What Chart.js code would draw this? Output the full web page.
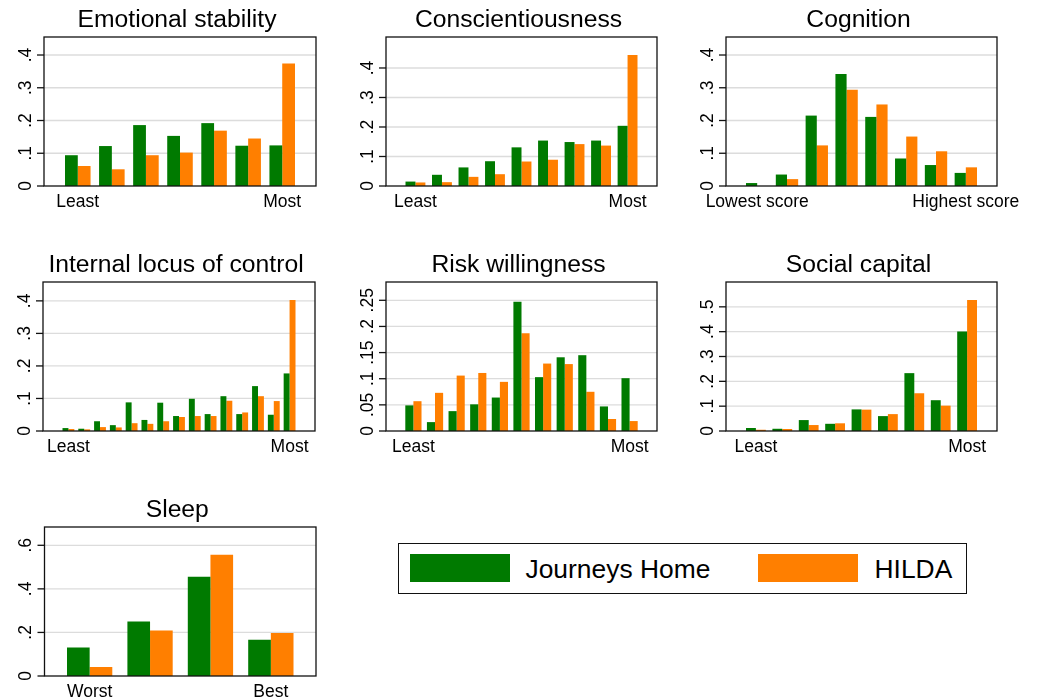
<!DOCTYPE html>
<html>
<head>
<meta charset="utf-8">
<script src="https://cdn.jsdelivr.net/npm/chart.js@4.4.1/dist/chart.umd.min.js"></script>
<style>
  html, body { margin: 0; padding: 0; background: #fff; }
  #page { position: relative; width: 1037px; height: 698px; overflow: hidden;
          font-family: "Liberation Sans", Arial, sans-serif; }
  #page canvas { position: absolute; }
  #legend { position: absolute; left: 398px; top: 543px; width: 569px; height: 51px;
            box-sizing: border-box; border: 1.5px solid #111; background: #fff; }
  #legend .sw { position: absolute; top: 9.5px; width: 100px; height: 28px; }
  #legend .lt { position: absolute; top: 11.5px; font-size: 26.4px; line-height: 1; color: #000; white-space: nowrap; }
</style>
</head>
<body>
<div id="page">
  <div id="legend">
    <div class="sw" id="swJH" style="left:10.5px"></div>
    <div class="lt" style="left:126.5px">Journeys Home</div>
    <div class="sw" id="swHI" style="left:358.5px"></div>
    <div class="lt" style="left:475.5px">HILDA</div>
  </div>
</div>
<script>
// ---- Series colours ----
const GREEN = '#007a00';
const ORANGE = '#ff7f00';

// ---- Emotional stability (7 levels) ----
const emotionalLevels = [1, 2, 3, 4, 5, 6, 7];
const emotionalJourneysHome = [0.094, 0.122, 0.186, 0.153, 0.192, 0.123, 0.124];
const emotionalHilda        = [0.061, 0.051, 0.094, 0.102, 0.169, 0.145, 0.374];

// ---- Conscientiousness (9 levels) ----
const conscientiousLevels = [1, 2, 3, 4, 5, 6, 7, 8, 9];
const conscientiousJourneysHome = [0.015, 0.038, 0.063, 0.084, 0.131, 0.154, 0.149, 0.154, 0.204];
const conscientiousHilda        = [0.012, 0.013, 0.031, 0.040, 0.083, 0.089, 0.142, 0.137, 0.444];

// ---- Cognition (8 score bands) ----
const cognitionLevels = [1, 2, 3, 4, 5, 6, 7, 8];
const cognitionJourneysHome = [0.009, 0.035, 0.215, 0.342, 0.211, 0.084, 0.064, 0.040];
const cognitionHilda        = [0.000, 0.021, 0.124, 0.294, 0.249, 0.151, 0.106, 0.057];

// ---- Internal locus of control (15 levels) ----
const locusLevels = [1, 2, 3, 4, 5, 6, 7, 8, 9, 10, 11, 12, 13, 14, 15];
const locusJourneysHome = [0.009, 0.007, 0.030, 0.018, 0.088, 0.034, 0.087, 0.046, 0.099, 0.052, 0.107, 0.052, 0.138, 0.050, 0.177];
const locusHilda        = [0.006, 0.005, 0.012, 0.011, 0.024, 0.022, 0.030, 0.043, 0.046, 0.046, 0.093, 0.057, 0.107, 0.092, 0.403];

// ---- Risk willingness (0-10) ----
const riskLevels = [0, 1, 2, 3, 4, 5, 6, 7, 8, 9, 10];
const riskJourneysHome = [0.049, 0.017, 0.038, 0.051, 0.064, 0.247, 0.103, 0.141, 0.145, 0.047, 0.101];
const riskHilda        = [0.057, 0.073, 0.106, 0.111, 0.094, 0.187, 0.129, 0.128, 0.075, 0.023, 0.019];

// ---- Social capital (9 levels) ----
const socialLevels = [1, 2, 3, 4, 5, 6, 7, 8, 9];
const socialJourneysHome = [0.012, 0.009, 0.044, 0.029, 0.087, 0.060, 0.233, 0.124, 0.401];
const socialHilda        = [0.005, 0.008, 0.024, 0.031, 0.086, 0.068, 0.152, 0.102, 0.528];

// ---- Sleep (4 levels) ----
const sleepLevels = [1, 2, 3, 4];
const sleepJourneysHome = [0.131, 0.250, 0.456, 0.166];
const sleepHilda        = [0.041, 0.209, 0.557, 0.197];

// ---- Axis tick values and their labels ----
const ticksTenthsTo4 = [0, 0.1, 0.2, 0.3, 0.4];
const labelsTenthsTo4 = ['0', '.1', '.2', '.3', '.4'];
const ticksTenthsTo5 = [0, 0.1, 0.2, 0.3, 0.4, 0.5];
const labelsTenthsTo5 = ['0', '.1', '.2', '.3', '.4', '.5'];
const ticksTwentieths = [0, 0.05, 0.1, 0.15, 0.2, 0.25];
const labelsTwentieths = ['0', '.05', '.1', '.15', '.2', '.25'];
const ticksFifths = [0, 0.2, 0.4, 0.6];
const labelsFifths = ['0', '.2', '.4', '.6'];

// ---- End-point category labels ----
const leastMost = ['Least', 'Most'];
const lowestHighest = ['Lowest score', 'Highest score'];
const worstBest = ['Worst', 'Best'];

// ---- Series names ----
const seriesNames = ['Journeys Home', 'HILDA'];

document.getElementById('swJH').style.background = GREEN;
document.getElementById('swHI').style.background = ORANGE;

// Panel definitions: data + axis settings + where the plot box sits on the page
const panels = [
  { title: 'Emotional stability', levels: emotionalLevels, jh: emotionalJourneysHome, hi: emotionalHilda,
    yMax: 0.455, yTicks: ticksTenthsTo4, yLabels: labelsTenthsTo4, ends: leastMost,
    cell: [0, 0, 345, 240], box: [44, 37, 316, 186], outer: 21 },
  { title: 'Conscientiousness', levels: conscientiousLevels, jh: conscientiousJourneysHome, hi: conscientiousHilda,
    yMax: 0.505, yTicks: ticksTenthsTo4, yLabels: labelsTenthsTo4, ends: leastMost,
    cell: [345, 0, 345, 240], box: [386, 37, 657, 186], outer: 19.5 },
  { title: 'Cognition', levels: cognitionLevels, jh: cognitionJourneysHome, hi: cognitionHilda,
    yMax: 0.455, yTicks: ticksTenthsTo4, yLabels: labelsTenthsTo4, ends: lowestHighest,
    cell: [690, 0, 347, 240], box: [726, 37, 997, 186], outer: 20 },
  { title: 'Internal locus of control', levels: locusLevels, jh: locusJourneysHome, hi: locusHilda,
    yMax: 0.458, yTicks: ticksTenthsTo4, yLabels: labelsTenthsTo4, ends: leastMost,
    cell: [0, 240, 345, 240], box: [43, 282, 315, 431], outer: 19.5 },
  { title: 'Risk willingness', levels: riskLevels, jh: riskJourneysHome, hi: riskHilda,
    yMax: 0.285, yTicks: ticksTwentieths, yLabels: labelsTwentieths, ends: leastMost,
    cell: [345, 240, 345, 240], box: [386, 282, 657, 431], outer: 19.3 },
  { title: 'Social capital', levels: socialLevels, jh: socialJourneysHome, hi: socialHilda,
    yMax: 0.6, yTicks: ticksTenthsTo5, yLabels: labelsTenthsTo5, ends: leastMost,
    cell: [690, 240, 347, 240], box: [726, 282, 997, 431], outer: 20 },
  { title: 'Sleep', levels: sleepLevels, jh: sleepJourneysHome, hi: sleepHilda,
    yMax: 0.684, yTicks: ticksFifths, yLabels: labelsFifths, ends: worstBest,
    cell: [0, 480, 345, 218], box: [44.5, 527, 316, 676], outer: 22.5 }
];

const FONT = '"Liberation Sans", Arial, Helvetica, sans-serif';
const GROUP_SHARE = 0.75;   // bar pair width relative to slot (gap = 2/3 of one bar)

// Draws the plot frame, grid, axis ticks/labels and panel title
const panelDecor = {
  id: 'panelDecor',
  beforeDatasetsDraw(chart, args, opts) {
    const { ctx, chartArea: a, scales: { y } } = chart;
    ctx.save();
    ctx.strokeStyle = '#dcdcdc';
    ctx.lineWidth = 1.3;
    opts.yTicks.forEach(v => {
      if (v === 0) return;
      const py = y.getPixelForValue(v);
      ctx.beginPath();
      ctx.moveTo(a.left, py);
      ctx.lineTo(a.right, py);
      ctx.stroke();
    });
    ctx.restore();
  },
  afterDatasetsDraw(chart, args, opts) {
    const { ctx, chartArea: a, scales: { x, y } } = chart;
    ctx.save();
    ctx.strokeStyle = '#111';
    ctx.lineWidth = 1.3;
    ctx.strokeRect(a.left, a.top, a.right - a.left, a.bottom - a.top);

    ctx.fillStyle = '#000';
    ctx.font = '17.5px ' + FONT;
    opts.yTicks.forEach((v, i) => {
      const py = y.getPixelForValue(v);
      ctx.beginPath();
      ctx.moveTo(a.left - 7, py);
      ctx.lineTo(a.left, py);
      ctx.stroke();
      ctx.save();
      ctx.translate(a.left - 13.5, py);
      ctx.rotate(-Math.PI / 2);
      ctx.textAlign = 'center';
      ctx.textBaseline = 'alphabetic';
      ctx.fillText(opts.yLabels[i], 0, 0);
      ctx.restore();
    });

    ctx.textAlign = 'center';
    ctx.textBaseline = 'alphabetic';
    ctx.fillText(opts.ends[0], x.getPixelForValue(0), a.bottom + 20.5);
    ctx.fillText(opts.ends[1], x.getPixelForValue(opts.count - 1), a.bottom + 20.5);

    ctx.font = '24.7px ' + FONT;
    ctx.fillText(opts.title, (a.left + a.right) / 2 - 3, a.top - 10);
    ctx.restore();
  }
};

const page = document.getElementById('page');

panels.forEach(p => {
  const [cx, cy, cw, ch] = p.cell;
  const [L, T, R, B] = p.box;
  const n = p.levels.length;
  // slot width so that the outer gaps match, then extend the x range accordingly
  const slot = (R - L - 2 * p.outer) / (n - (1 - GROUP_SHARE));
  const ext = p.outer / slot + GROUP_SHARE / 2;

  const canvas = document.createElement('canvas');
  canvas.width = cw;
  canvas.height = ch;
  canvas.style.left = cx + 'px';
  canvas.style.top = cy + 'px';
  canvas.style.width = cw + 'px';
  canvas.style.height = ch + 'px';
  page.appendChild(canvas);

  const toPoints = vals => vals.map((v, i) => ({ x: i, y: v }));

  new Chart(canvas, {
    type: 'bar',
    data: {
      datasets: [
        { label: seriesNames[0], data: toPoints(p.jh), backgroundColor: GREEN,
          borderWidth: 0, categoryPercentage: GROUP_SHARE, barPercentage: 1 },
        { label: seriesNames[1], data: toPoints(p.hi), backgroundColor: ORANGE,
          borderWidth: 0, categoryPercentage: GROUP_SHARE, barPercentage: 1 }
      ]
    },
    options: {
      responsive: false,
      animation: false,
      devicePixelRatio: 1,
      layout: { padding: { left: L - cx, top: T - cy, right: cx + cw - R, bottom: cy + ch - B } },
      plugins: {
        legend: { display: false },
        tooltip: { enabled: false },
        panelDecor: { title: p.title, yTicks: p.yTicks, yLabels: p.yLabels, ends: p.ends, count: n }
      },
      scales: {
        x: {
          type: 'linear', display: false, offset: false,
          min: -ext, max: n - 1 + ext,
          afterBuildTicks: s => { s.ticks = [{ value: 0 }, { value: n - 1 }]; }
        },
        y: {
          type: 'linear', display: false,
          min: 0, max: p.yMax,
          afterBuildTicks: s => { s.ticks = p.yTicks.map(v => ({ value: v })); }
        }
      }
    },
    plugins: [panelDecor]
  });
});
</script>
</body>
</html>
